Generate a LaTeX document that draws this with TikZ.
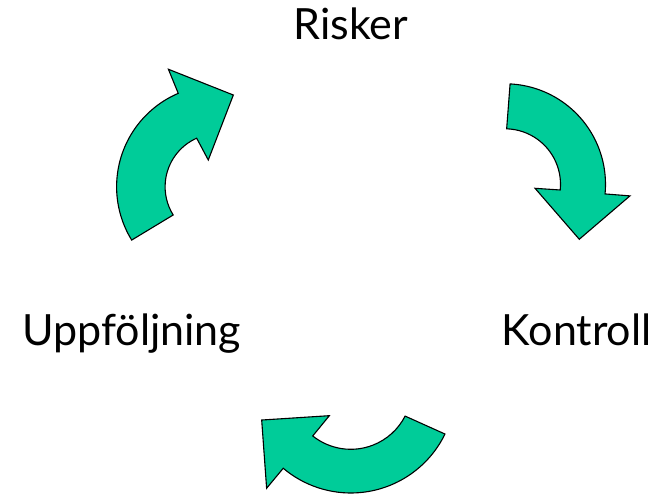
\documentclass[tikz,border=0pt]{standalone}
\usepackage{fontspec}
\setmainfont{Lato}
\definecolor{arrowgreen}{RGB}{0,204,153}
\begin{document}
\begin{tikzpicture}[x=1pt,y=1pt,
  cyc/.style={fill=arrowgreen,draw=black,line width=1.1pt,line join=miter},
  lbl/.style={anchor=base,inner sep=0pt,font=\fontsize{43}{50}\selectfont}]
\useasboundingbox (0,0) rectangle (661,494);
\fill[white] (0,0) rectangle (661,494);
% labels
\node[lbl] (risker) at (351,454.7) {Risker};
\node[lbl] (uppf) at (131.7,148.3) {Uppföljning};
\node[lbl] (kontroll) at (576.7,148) {Kontroll};
% upper-left arrow
\begin{scope}[shift={(218.3,307.2)}]
\draw[cyc] (211.6:101.7pt) arc[start angle=211.6,end angle=113.2,radius=101.7pt]
  -- (113:127.7pt) -- (80.7:93pt) -- (110.5:28.6pt) -- (114:53.2pt)
  arc[start angle=114,end angle=212,radius=53.2pt] -- cycle;
\end{scope}
% upper-right arrow
\begin{scope}[shift={(505,309.7)}]
\draw[cyc] (87.1:100.5pt) arc[start angle=87.1,end angle=-5.5,radius=100.5pt]
  -- (-5.3:125.5pt) -- (-36.5:92.4pt) -- (-7.6:30.3pt) -- (-5.9:55.5pt)
  arc[start angle=-5.9,end angle=88.3,radius=55.5pt] -- cycle;
\end{scope}
% bottom arrow
\begin{scope}[shift={(350.8,105.7)}]
\draw[cyc] (-25.9:104.7pt) arc[start angle=-25.9,end angle=-130.2,radius=104.7pt]
  -- (-130.1:130.7pt) -- (-160.4:94.6pt) -- (-128.1:34.8pt) -- (-128.6:61pt)
  arc[start angle=-128.6,end angle=-27.1,radius=61pt] -- cycle;
\end{scope}
\end{tikzpicture}
\end{document}
